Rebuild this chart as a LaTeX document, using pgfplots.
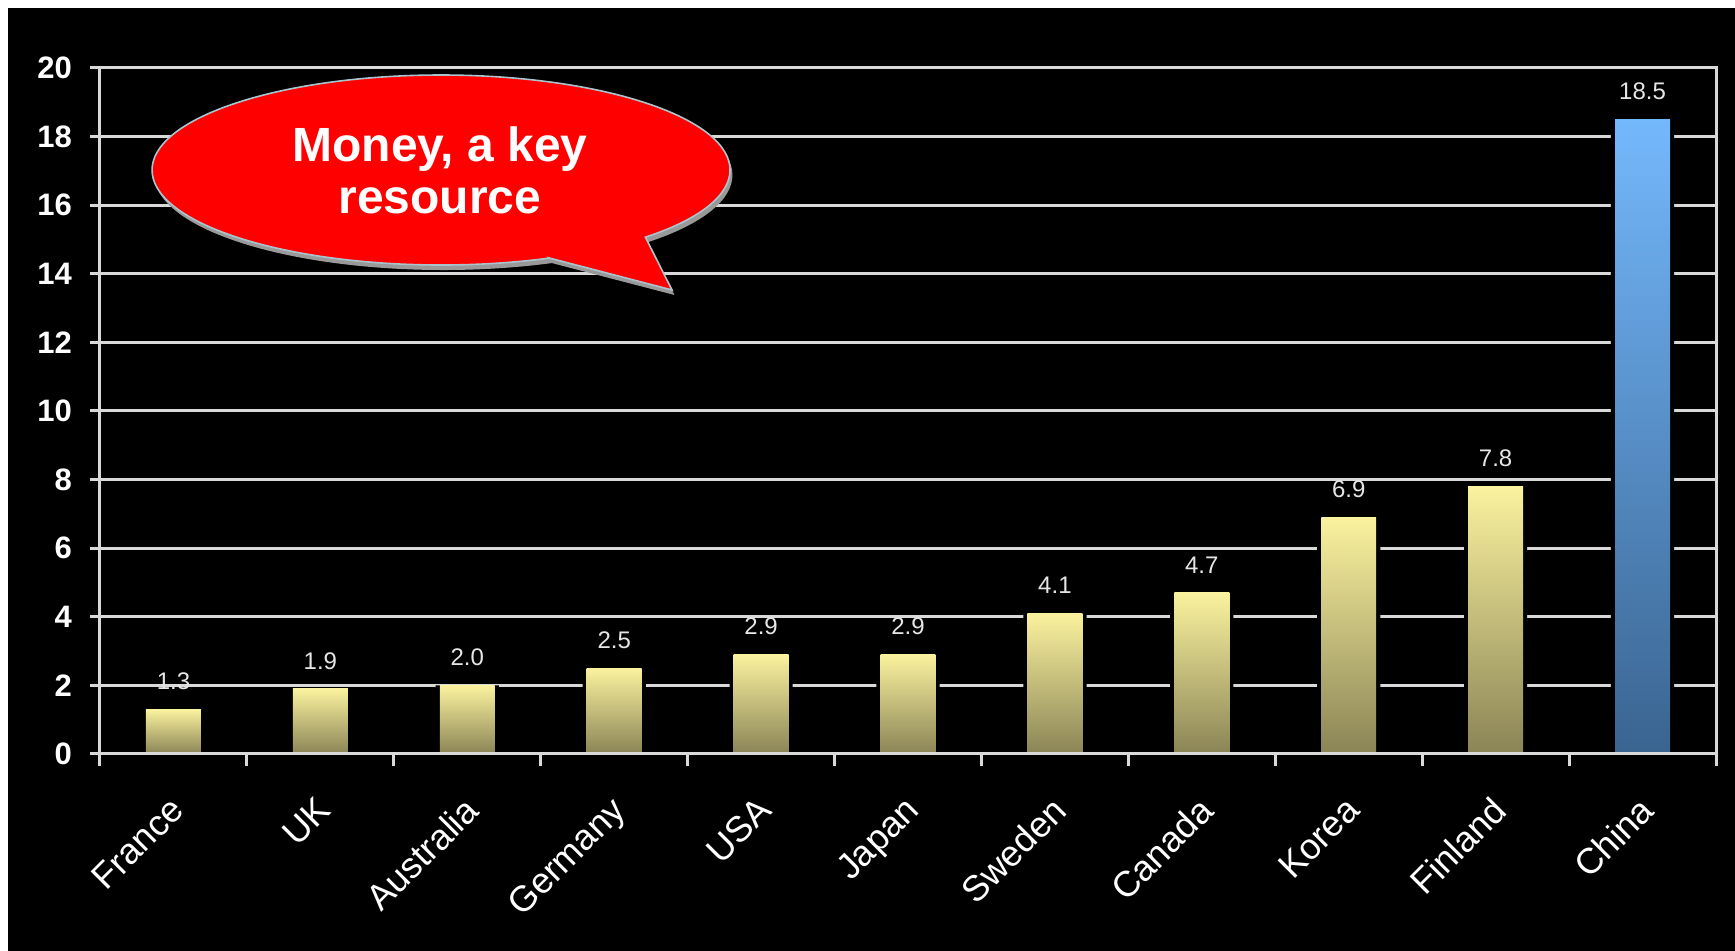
\documentclass[border=0pt]{standalone}
\usepackage{pgfplots}
\pgfplotsset{compat=1.18}
\usepackage{fontspec}
\setmainfont{Liberation Sans}
\definecolor{barTop}{HTML}{FAF29E}
\definecolor{barBot}{HTML}{8A8456}
\definecolor{chTop}{HTML}{74B8FC}
\definecolor{chBot}{HTML}{3A6490}
\definecolor{gridc}{HTML}{D9D9D9}
\definecolor{lblc}{HTML}{E6E6E6}
\definecolor{callred}{HTML}{FF0000}
\definecolor{calledge}{HTML}{A9C4CC}
\pgfplotsset{
  ybarY/.style={ybar, bar width=0.374, bar shift=0pt, draw=none, top color=barTop, bottom color=barBot,
    nodes near coords, point meta=y},
  ybarC/.style={ybar, bar width=0.374, bar shift=0pt, draw=none, top color=chTop, bottom color=chBot,
    nodes near coords, point meta=y},
}
\begin{document}
\begin{tikzpicture}
\path[use as bounding box, fill=white] (-50pt,-98.5pt) rectangle (817.5pt,377pt);
\fill[black] (-46pt,-98.5pt) rectangle (817.5pt,373pt);
\begin{axis}[
  at={(0pt,0pt)}, anchor=south west,
  scale only axis, width=808pt, height=343pt,
  xmin=-0.5, xmax=10.5, ymin=0, ymax=20,
  xtick={0,...,10},
  xticklabels={France,UK,Australia,Germany,USA,Japan,Sweden,Canada,Korea,Finland,China},
  major x tick style={draw=none},
  minor xtick={-0.5,0.5,...,10.5},
  ytick={0,2,...,20},
  xtick pos=bottom, ytick pos=left,
  tick align=outside,
  major tick length=5pt, minor tick length=6pt,
  ymajorgrids,
  grid style={gridc, line width=1.5pt},
  axis line style={gridc, line width=1.5pt},
  tick style={gridc, line width=1.5pt},
  /pgf/number format/assume math mode=true,
  yticklabel style={font=\bfseries\fontsize{15.5}{18}\selectfont, text=white, xshift=-5.5pt},
  xticklabel style={font=\fontsize{18}{21}\selectfont, text=white, xshift=-2.5pt, yshift=-10.5pt, rotate=45, anchor=north east},
  nodes near coords style={font=\fontsize{12}{14}\selectfont, text=lblc, anchor=south, inner sep=0pt, yshift=9.5pt,
    /pgf/number format/.cd, fixed, fixed zerofill, precision=1},
]
% black halo round each bar (gaps in the grid lines)
\addplot[ybar, bar width=0.43, bar shift=0pt, fill=black, draw=none]
  coordinates {(0,1.3)(1,1.9)(2,2.0)(3,2.5)(4,2.9)(5,2.9)(6,4.1)(7,4.7)(8,6.9)(9,7.8)(10,18.5)};
\addplot[ybarY] coordinates {(0,1.3)};
\addplot[ybarY] coordinates {(1,1.9)};
\addplot[ybarY] coordinates {(2,2.0)};
\addplot[ybarY] coordinates {(3,2.5)};
\addplot[ybarY] coordinates {(4,2.9)};
\addplot[ybarY] coordinates {(5,2.9)};
\addplot[ybarY] coordinates {(6,4.1)};
\addplot[ybarY] coordinates {(7,4.7)};
\addplot[ybarY] coordinates {(8,6.9)};
\addplot[ybarY] coordinates {(9,7.8)};
\addplot[ybarC] coordinates {(10,18.5)};
\draw[gridc, line width=1.5pt] (axis cs:-0.5,0) -- (axis cs:10.5,0);
\end{axis}
% callout
\path[fill=gray!80, shift={(1.2pt,-2.5pt)}]
  (224.6pt,248.0pt) -- (286pt,232pt) -- (272.7pt,258.4pt)
  arc[start angle=-45, end angle=292, x radius=144.5pt, y radius=47.5pt] -- cycle;
\path[fill=callred, draw=calledge, line width=0.8pt]
  (224.6pt,248.0pt) -- (286pt,232pt) -- (272.7pt,258.4pt)
  arc[start angle=-45, end angle=292, x radius=144.5pt, y radius=47.5pt] -- cycle;
\node[text=white, font=\bfseries\fontsize{24}{26}\selectfont, align=center] at (170pt,292pt) {Money, a key\\resource};
\end{tikzpicture}
\end{document}
